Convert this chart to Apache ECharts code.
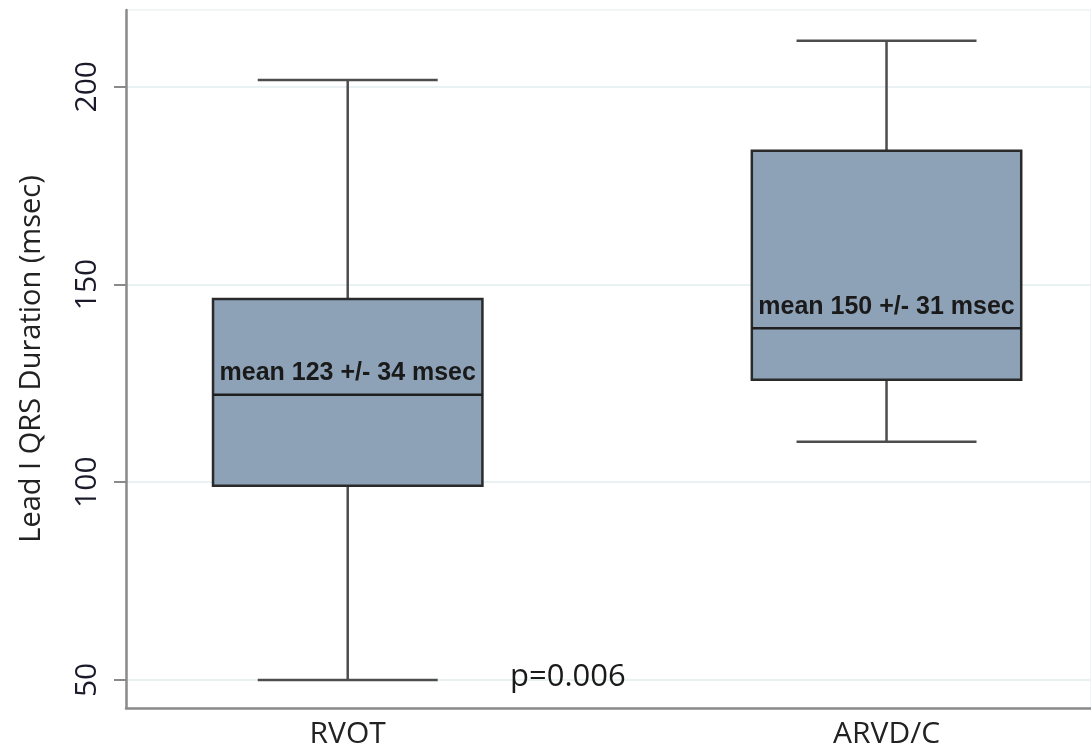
<!DOCTYPE html>
<html>
<head>
<meta charset="utf-8">
<script src="https://cdn.jsdelivr.net/npm/echarts@6/dist/echarts.min.js"></script>
<style>html,body{margin:0;padding:0;background:#fff}#c{width:1091px;height:751px}</style>
</head>
<body>
<div id="c"></div>
<script>
const categories = ['RVOT', 'ARVD/C'];
const minVals = [50, 110.2];
const q1Vals = [99.1, 125.9];
const medianVals = [122.1, 138.9];
const q3Vals = [146.3, 183.8];
const maxVals = [201.7, 211.6];
const meanLabels = ['mean 123 +/- 34 msec', 'mean 150 +/- 31 msec'];
const yTicks = [50, 100, 150, 200];
const pValueLabel = 'p=0.006';
const yAxisTitle = 'Lead I QRS Duration (msec)';

const data = categories.map((c, i) => [i + 1, minVals[i], q1Vals[i], medianVals[i], q3Vals[i], maxVals[i]]);

const chart = echarts.init(document.getElementById('c'), null, {renderer: 'canvas'});
const lineCol = '#4d4d4d';
const boxStroke = '#2a2a2a';
const fontReg = '"Open Sans", "Liberation Sans", sans-serif';

chart.setOption({
  animation: false,
  backgroundColor: '#fff',
  grid: {left: 126, right: 0, top: 10, bottom: 43, show: true, borderColor: '#edf2f4', borderWidth: 1.5},
  xAxis: {
    type: 'value', min: 0.5885, max: 2.3795,
    axisLine: {show: true, lineStyle: {color: '#8a8a8a', width: 2.5}},
    axisTick: {show: false},
    splitLine: {show: false},
    axisLabel: {
      customValues: [1, 2],
      formatter: v => categories[Math.round(v) - 1] || '',
      color: '#222', fontSize: 30, fontFamily: fontReg, margin: 11
    }
  },
  yAxis: {
    type: 'value', min: 42.9, max: 219.4,
    name: yAxisTitle, nameLocation: 'middle', nameRotate: 90, nameGap: 80,
    nameTextStyle: {color: '#222', fontSize: 29, fontFamily: fontReg},
    axisLine: {show: true, lineStyle: {color: '#8a8a8a', width: 2.5}},
    axisTick: {show: true, length: 12, customValues: yTicks, lineStyle: {color: '#8a8a8a', width: 2}},
    axisLabel: {customValues: yTicks, rotate: 90, margin: 24, color: '#1a1a2a', fontSize: 30, fontFamily: fontReg},
    splitLine: {show: true, lineStyle: {color: '#eaf1f3', width: 2}}
  },
  series: [{
    type: 'custom',
    encode: {x: 0, y: [1, 2, 3, 4, 5]},
    data: data,
    renderItem: function (params, api) {
      const x = api.value(0);
      const pMin = api.coord([x, api.value(1)]);
      const pQ1 = api.coord([x, api.value(2)]);
      const pMed = api.coord([x, api.value(3)]);
      const pQ3 = api.coord([x, api.value(4)]);
      const pMax = api.coord([x, api.value(5)]);
      const bl = api.coord([x - 0.25, 0])[0];
      const br = api.coord([x + 0.25, 0])[0];
      const cl = api.coord([x - 0.167, 0])[0];
      const cr = api.coord([x + 0.167, 0])[0];
      const cx = pMin[0];
      const ls = {stroke: lineCol, lineWidth: 2.5};
      return {
        type: 'group',
        children: [
          {type: 'line', shape: {x1: cx, y1: pMin[1], x2: cx, y2: pQ1[1]}, style: ls},
          {type: 'line', shape: {x1: cx, y1: pQ3[1], x2: cx, y2: pMax[1]}, style: ls},
          {type: 'line', shape: {x1: cl, y1: pMin[1], x2: cr, y2: pMin[1]}, style: ls},
          {type: 'line', shape: {x1: cl, y1: pMax[1], x2: cr, y2: pMax[1]}, style: ls},
          {type: 'rect', shape: {x: bl, y: pQ3[1], width: br - bl, height: pQ1[1] - pQ3[1]},
            style: {fill: '#8da2b7', stroke: boxStroke, lineWidth: 2.5}},
          {type: 'line', shape: {x1: bl, y1: pMed[1], x2: br, y2: pMed[1]}, style: {stroke: '#1f1f1f', lineWidth: 2.5}},
          {type: 'text', style: {text: meanLabels[params.dataIndex], x: cx, y: pMed[1] - 9,
            align: 'center', verticalAlign: 'bottom', fill: '#1a1a1a',
            font: 'bold 25px "Liberation Sans", Arial, sans-serif'}}
        ]
      };
    }
  }],
  graphic: [{
    type: 'text', left: 510, top: 662, z: 100,
    style: {text: pValueLabel, fill: '#1a1a1a', font: '31px "Open Sans", "Liberation Sans", sans-serif'}
  }]
});
</script>
</body>
</html>
